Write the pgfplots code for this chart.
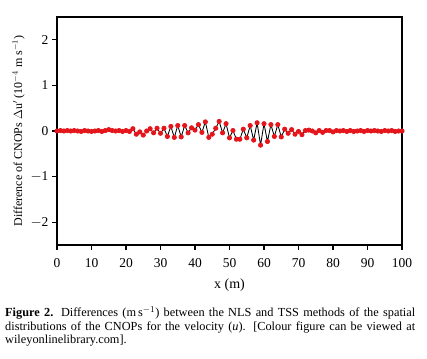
\documentclass[border=0pt]{standalone}
\usepackage{pgfplots}
\pgfplotsset{compat=1.18}
\usepackage{fontspec}
\setmainfont{Liberation Serif}
\definecolor{dotred}{RGB}{228,22,28}
\begin{document}
\begin{tikzpicture}
\useasboundingbox (-57pt,-113pt) rectangle (370pt,245pt);
\begin{axis}[
  at={(0pt,0pt)}, anchor=south west,
  scale only axis, width=345pt, height=228pt,
  xmin=0, xmax=100, ymin=-2.5, ymax=2.5,
  xtick={0,10,...,100}, ytick={-2,-1,0,1,2},
  tick align=outside, tick pos=left,
  major tick length=5pt,
  axis line style={line width=1.3pt},
  every tick/.style={black, line width=1.1pt},
  /pgf/number format/assume math mode=true,
  ticklabel style={font=\fontsize{13.5}{15}\selectfont},
  xticklabel style={yshift=-4.5pt},
  yticklabels={$-$2,$-$1,0,1,2},
  xlabel={x (m)}, xlabel style={font=\fontsize{14}{16}\selectfont, yshift=-5pt},
  ylabel={Difference of CNOPs $\Delta$u$'$ (10$^{-4}$ m s$^{-1}$)},
  ylabel style={font=\fontsize{12}{14}\selectfont, yshift=-1pt},
]
\addplot[black, line width=0.85pt, mark=*, mark size=2.1pt,
  mark options={draw=dotred, fill=dotred}] coordinates {
(0,0) (1,0.01) (2,0) (3,0.01) (4,0) (5,0.01) (6,0) (7,-0.01) (8,0.01) (9,0)
(10,-0.01) (11,0) (12,0.01) (13,-0.01) (14,0.01) (15,0.03) (16,0.01) (17,0) (18,0.01) (19,-0.01)
(20,0.01) (21,-0.01) (22,0.05) (23,-0.07) (24,-0.02) (25,-0.09) (26,0.0) (27,0.05) (28,-0.04) (29,0.06)
(30,-0.05) (31,0.06) (32,-0.12) (33,0.10) (34,-0.14) (35,0.12) (36,-0.13) (37,0.12) (38,-0.04) (39,0.07)
(40,0.02) (41,0.14) (42,-0.03) (43,0.20) (44,-0.14) (45,-0.07) (46,0.06) (47,0.21) (48,-0.04) (49,0.16)
(50,-0.15) (51,0.01) (52,-0.18) (53,-0.18) (54,0.04) (55,-0.15) (56,0.12) (57,-0.20) (58,0.18) (59,-0.31)
(60,0.16) (61,-0.23) (62,0.14) (63,-0.12) (64,0.14) (65,-0.13) (66,0.04) (67,-0.05) (68,0.03) (69,-0.07)
(70,-0.01) (71,-0.08) (72,0.01) (73,0.02) (74,0.0) (75,-0.04) (76,0.01) (77,-0.03) (78,0.01) (79,0.01)
(80,-0.02) (81,0.01) (82,0) (83,0.01) (84,-0.01) (85,0.01) (86,-0.01) (87,0) (88,0.01) (89,-0.01)
(90,0.01) (91,0) (92,0.01) (93,0) (94,-0.01) (95,0.01) (96,0) (97,0.01) (98,-0.01) (99,0) (100,0)
};
\end{axis}
\node[anchor=north west, text width=410pt, align=justify, inner sep=0pt,
  font=\fontsize{12.3}{13.8}\selectfont] at (-52pt,-61pt)
  {\textbf{Figure 2.} Differences (m\,s$^{-1}$) between the NLS and TSS methods of the spatial\linebreak
   distributions of the CNOPs for the velocity (\textit{u}). [Colour figure can be viewed at\linebreak
   wileyonlinelibrary.com].};
\end{tikzpicture}
\end{document}
